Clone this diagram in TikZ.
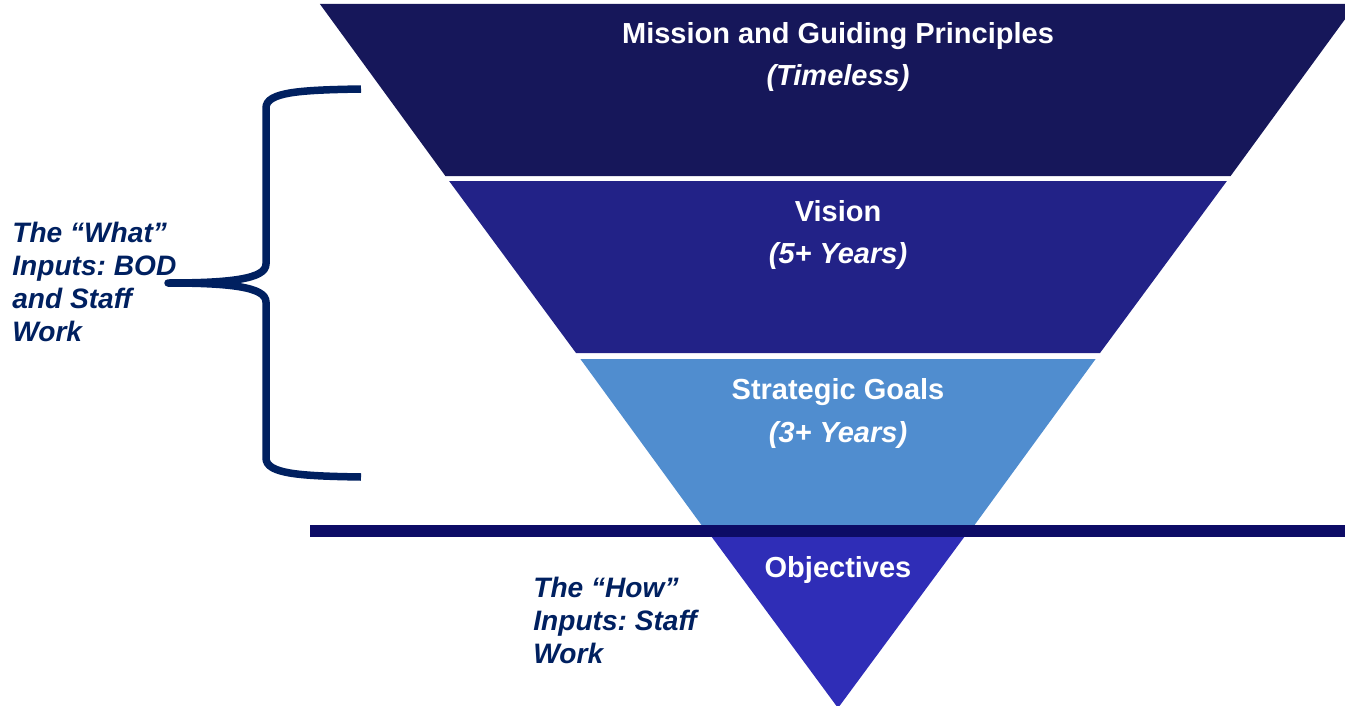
\documentclass[tikz,border=0pt]{standalone}
\usepackage{fontspec}
\setmainfont{Liberation Sans}
\frenchspacing
\definecolor{missionblue}{RGB}{22,23,90}
\definecolor{visionblue}{RGB}{34,34,135}
\definecolor{goalsblue}{RGB}{80,141,207}
\definecolor{objblue}{RGB}{47,45,183}
\definecolor{barblue}{RGB}{13,12,102}
\definecolor{navy}{RGB}{0,32,96}

\begin{document}
\begin{tikzpicture}[x=0.02cm, y=-0.02cm,
    bandtext/.style={white, inner sep=0pt, anchor=base, font=\fontsize{16.5}{20}\selectfont\bfseries},
    bandsub/.style={bandtext, font=\fontsize{16.5}{20}\selectfont\bfseries\itshape},
    inputs/.style={navy, inner sep=0pt, anchor=north west, align=left, font=\fontsize{16}{18.8}\selectfont\bfseries\itshape}]

    \useasboundingbox (0,0) rectangle (1345,706);
    \clip (0,0) rectangle (1345,706);

    % funnel bands, top to bottom
    \fill[missionblue] (319.9,4) -- (1356.1,4) -- (1230.6,176) -- (445.4,176) -- cycle;
    \fill[visionblue] (449.1,181) -- (1226.9,181) -- (1100,353) -- (576,353) -- cycle;
    \fill[goalsblue] (580.4,359) -- (1095.6,359) -- (973.1,527) -- (702.9,527) -- cycle;
    \fill[objblue] (706.6,530) -- (969.4,530) -- (838,708) -- cycle;

    % dividing bar
    \fill[barblue] (310,525) rectangle (1345,537);

    \node[bandtext] (mission) at (838,44) {Mission and Guiding Principles};
    \node[bandsub] (missionsub) at (838,86) {(Timeless)};
    \node[bandtext] (vision) at (838,221) {Vision};
    \node[bandsub] (visionsub) at (838,263) {(5+ Years)};
    \node[bandtext] (goals) at (838,399) {Strategic Goals};
    \node[bandsub] (goalssub) at (838,442) {(3+ Years)};
    \node[bandtext] (objectives) at (838,577) {Objectives};

    % brace
    \draw[navy, line width=0.15cm, line join=round]
        (361,89) .. controls (300,90) and (266,92) .. (266,108) -- (266,264)
        .. controls (266,279) and (230,283) .. (168,283)
        .. controls (230,283) and (266,287) .. (266,302) -- (266,458)
        .. controls (266,474) and (300,476) .. (361,477);

    \node[inputs] (what) at (12,221.5) {The “What”\\Inputs: BOD\\and Staff\\Work};
    \node[inputs] (how) at (533,576.5) {The “How”\\Inputs: Staff\\Work};

\end{tikzpicture}
\end{document}
